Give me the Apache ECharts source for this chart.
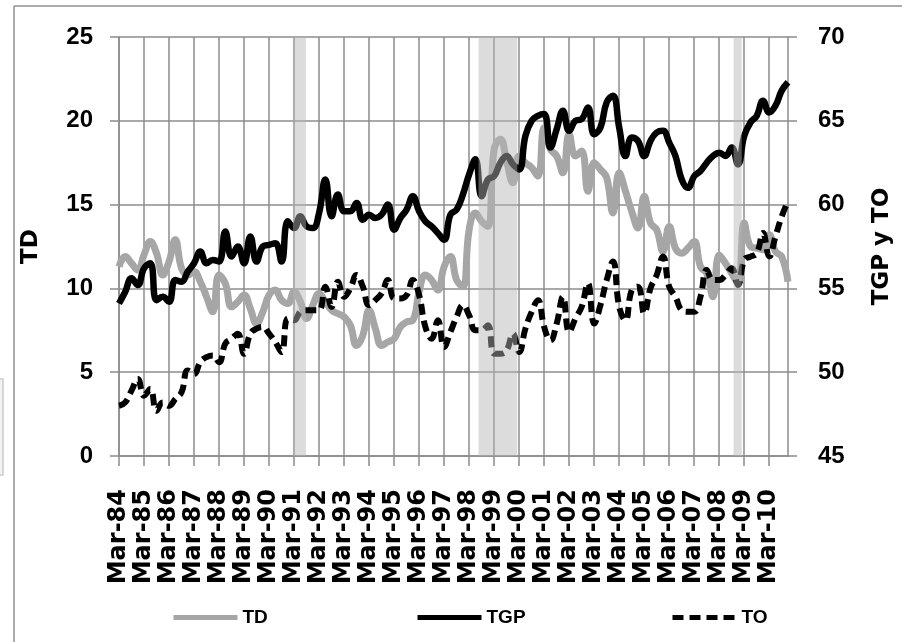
<!DOCTYPE html>
<html>
<head>
<meta charset="UTF-8">
<title></title>
<script src="https://cdn.jsdelivr.net/npm/echarts@6/dist/echarts.min.js"></script>
<style>html,body{margin:0;padding:0;background:#fff;}</style>
</head>
<body>
<div id="main" style="width:902px;height:642px"></div>
<script>
// quarters Mar-84 .. Dec-10
var months = ['Mar', 'Jun', 'Sep', 'Dec'];
var quarters = [];
for (var yr = 1984; yr <= 2010; yr++) {
    for (var q = 0; q < 4; q++) quarters.push(months[q] + '-' + String(yr).slice(2));
}

// TD, left axis
var td = [
    11.3, 11.9, 11.5, 11.1, 12.0, 12.8, 12.1, 10.8, 11.6, 12.9,
    11.2, 10.8, 11.0, 10.4, 9.5, 8.6, 10.8, 10.3, 8.9, 9.2,
    9.6, 8.8, 7.9, 8.6, 9.6, 9.9, 9.3, 9.1, 9.8, 9.2,
    8.2, 9.0, 9.7, 9.2, 8.7, 8.5, 8.3, 7.8, 6.6, 7.2,
    8.7, 7.6, 6.6, 6.8, 7.0, 7.7, 8.0, 8.1, 9.8, 10.8,
    10.5, 9.9, 11.3, 11.9, 10.5, 10.1, 13.5, 14.5, 14.0, 13.7,
    18.3, 18.9, 17.6, 16.3, 17.9, 17.5, 17.2, 16.7, 19.6, 18.3,
    17.9, 16.9, 19.2, 17.9, 18.2, 15.8, 17.5, 17.1, 16.6, 14.5,
    16.9, 15.8, 14.6, 13.6, 15.5, 13.9, 13.5, 12.2, 13.7, 12.4,
    12.1, 12.4, 12.8, 11.3, 10.9, 9.5, 12.0, 11.5, 10.9, 10.3,
    13.9, 12.5, 12.4, 12.3, 13.2, 12.2, 11.9, 10.4
];

// TGP, right axis
var tgp = [
    54.1, 54.8, 55.6, 55.2, 56.2, 56.5, 54.3, 54.5, 54.2, 55.5,
    55.4, 56.0, 56.5, 57.2, 56.5, 56.7, 56.6, 58.4, 56.9, 57.5,
    56.5, 58.1, 56.6, 57.5, 57.6, 57.7, 56.6, 59.0, 58.6, 59.3,
    58.7, 58.6, 59.5, 61.5, 59.3, 60.6, 59.6, 59.6, 60.1, 59.1,
    59.4, 59.2, 59.4, 60.0, 58.5, 59.2, 59.7, 60.5, 59.6, 59.0,
    58.7, 58.3, 57.9, 59.4, 59.7, 60.6, 61.8, 62.7, 60.5, 61.5,
    61.7, 62.5, 62.9, 62.4, 62.1, 64.1, 65.0, 65.3, 65.4, 63.4,
    64.5, 65.6, 64.4, 65.0, 65.1, 65.8, 64.2, 64.6, 66.1, 66.5,
    64.6, 62.9, 64.0, 63.8, 62.9, 63.8, 64.3, 64.4, 63.7, 62.9,
    61.5, 61.0, 61.7, 62.0, 62.5, 62.9, 63.1, 62.9, 63.4, 62.4,
    64.1, 64.9, 65.3, 66.2, 65.5, 65.9, 66.8, 67.3
];

// TO, right axis
var to = [
    48.0, 48.2, 48.9, 49.6, 48.6, 49.0, 47.7, 48.2, 48.0, 48.4,
    48.8, 50.1, 49.9, 50.6, 50.9, 51.0, 50.6, 51.7, 52.0, 52.3,
    51.1, 52.3, 52.6, 52.7, 52.3, 51.8, 51.2, 53.2, 53.1, 53.6,
    53.7, 53.7, 53.7, 55.1, 53.9, 55.4, 54.5, 55.0, 55.8, 55.1,
    54.0, 54.3, 54.7, 55.5, 54.4, 54.4, 54.6, 55.5, 54.6, 52.7,
    52.0, 53.1, 51.5, 52.4, 53.3, 54.0, 53.4, 52.5, 52.5, 52.8,
    51.1, 51.1, 51.3, 52.3, 51.2, 52.6, 53.6, 54.3, 52.7, 51.9,
    52.9, 54.5, 52.4, 53.2, 53.9, 55.3, 52.9, 54.0, 55.5, 56.6,
    53.9, 53.1, 54.9, 55.1, 53.5, 55.0, 55.8, 56.9, 55.1, 54.5,
    53.7, 53.6, 53.6, 54.5, 56.1, 55.5, 55.5, 55.8, 56.2, 55.2,
    56.7, 56.9, 57.1, 58.3, 56.9, 58.1, 59.3, 60.2
];

// shaded periods, in quarter index units
var bands = [[27.8, 29.9], [57.5, 63.7], [98.3, 99.6]];

var myChart = echarts.init(document.getElementById('main'));
var grey = '#8c8c8c';
var tickFont = { color: '#000', fontFamily: 'Liberation Sans', fontWeight: 'bold', fontSize: 24 };
var nameFont = { color: '#000', fontFamily: 'DejaVu Sans', fontWeight: 'bold', fontSize: 23 };
var legendFont = { color: '#000', fontFamily: 'Liberation Sans', fontWeight: 'bold', fontSize: 19 };

function legendAt(name, left) {
    return {
        data: [name], left: left, top: 603, itemWidth: 64, itemHeight: 16,
        itemStyle: { opacity: 0 },   // hide the circle, keep the line
        lineStyle: { width: 5 },
        textStyle: legendFont
    };
}

var option = {
    animation: false,
    backgroundColor: '#fff',
    grid: { left: 119, right: 110, top: 37, bottom: 186 },
    legend: [legendAt('TD', 166), legendAt('TGP', 410), legendAt('TO', 665)],
    xAxis: [{
        type: 'category',
        data: quarters,
        boundaryGap: false,
        axisLine: { lineStyle: { color: grey, width: 1.5 } },
        axisTick: { interval: 3, length: 10, lineStyle: { color: grey, width: 1.5 } },
        axisLabel: Object.assign({ interval: 3, rotate: 90, margin: 33 }, tickFont, { fontFamily: 'DejaVu Sans' }),
        splitLine: { show: true, interval: 3, lineStyle: { color: grey, width: 1.5 } }
    }, {
        type: 'value', min: 0, max: quarters.length - 1, show: false
    }],
    yAxis: [{
        type: 'value', min: 0, max: 25, interval: 5,
        name: 'TD', nameLocation: 'middle', nameRotate: 90, nameGap: 76,
        nameTextStyle: nameFont,
        axisLine: { show: true, lineStyle: { color: grey, width: 1.5 } },
        axisTick: { show: true, length: 9, lineStyle: { color: grey, width: 1.5 } },
        axisLabel: Object.assign({ margin: 26 }, tickFont),
        splitLine: { show: true, lineStyle: { color: grey, width: 1.5 } }
    }, {
        type: 'value', min: 45, max: 70, interval: 5, position: 'right',
        name: 'TGP y TO', nameLocation: 'middle', nameRotate: 90, nameGap: 83,
        nameTextStyle: nameFont,
        axisLine: { show: true, lineStyle: { color: grey, width: 1.5 } },
        axisTick: { show: true, length: 9, lineStyle: { color: grey, width: 1.5 } },
        axisLabel: Object.assign({ margin: 30 }, tickFont),
        splitLine: { show: false }
    }],
    series: [{
        name: 'TD', type: 'line', data: td, yAxisIndex: 0,
        smooth: 0.45, symbol: 'none',
        itemStyle: { color: '#a6a6a6' },
        lineStyle: { color: '#a6a6a6', width: 7 }
    }, {
        name: 'TGP', type: 'line', data: tgp, yAxisIndex: 1,
        smooth: 0.45, symbol: 'none',
        itemStyle: { color: '#000' },
        lineStyle: { color: '#000', width: 6.5 }
    }, {
        name: 'TO', type: 'line', data: to, yAxisIndex: 1,
        smooth: 0.45, symbol: 'none',
        itemStyle: { color: '#000' },
        lineStyle: { color: '#000', width: 6, type: [11, 6] }
    }, {
        name: 'bands', type: 'line', xAxisIndex: 1, yAxisIndex: 0, data: [],
        silent: true,
        markArea: {
            silent: true, z: 10,
            itemStyle: { color: 'rgba(181,181,181,0.47)' },
            data: bands.map(function (b) {
                return [{ xAxis: b[0], yAxis: 0 }, { xAxis: b[1], yAxis: 25 }];
            })
        }
    }],
    graphic: [
        { type: 'line', shape: { x1: 14, y1: 6, x2: 14, y2: 642 }, style: { stroke: '#919191', lineWidth: 1.5 } },
        { type: 'line', shape: { x1: 14, y1: 6, x2: 902, y2: 6 }, style: { stroke: '#919191', lineWidth: 1.5 } },
        { type: 'rect', shape: { x: -6, y: 379, width: 9, height: 96 }, style: { fill: '#f3f3f3', stroke: '#cccccc', lineWidth: 1.5 } }
    ]
};

myChart.setOption(option);
</script>
</body>
</html>
